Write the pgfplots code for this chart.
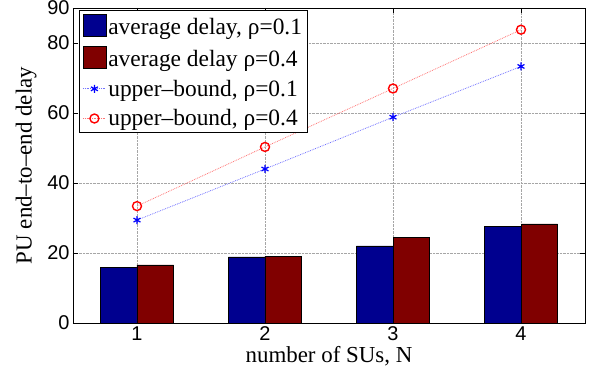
\documentclass[border=0pt]{standalone}
\usepackage{pgfplots}
\pgfplotsset{compat=1.18}
\usepackage{fontspec}
\setmainfont{Liberation Serif}
\newfontfamily\helv{Liberation Sans}
\definecolor{mblue}{RGB}{0,0,143}
\definecolor{mred}{RGB}{128,0,0}
\newcommand{\lf}{\fontsize{23}{27}\selectfont}
\begin{document}
\begin{tikzpicture}
\begin{axis}[
  scale only axis,
  width=512bp, height=315bp,
  xmin=0.5, xmax=4.5, ymin=0, ymax=90,
  xtick={1,2,3,4}, ytick={0,20,40,60,80,90},
  tick align=inside, major tick length=5bp,
  grid=major,
  major grid style={densely dotted, gray!70, line width=0.6pt},
  axis line style={line width=0.8pt},
  tick style={black, line width=0.6pt},
  ticklabel style={font=\helv\fontsize{20}{24}\selectfont},
  /pgf/number format/assume math mode=true,
  xlabel={\lf number of SUs, N},
  ylabel={\lf PU end--to--end delay},
  xlabel style={yshift=1bp},
  ylabel style={yshift=4bp},
  legend style={at={(0.012,0.993)}, anchor=north west, draw=black, line width=0.8pt,
    inner sep=3bp, row sep=8bp, font=\fontsize{23.5}{28}\selectfont,
    cells={anchor=west}},
  legend cell align=left,
]
\addplot[ybar, bar width=0.286, bar shift=-0.143, fill=mblue, draw=black, line width=0.6pt,
  legend image code/.code={\draw[fill=mblue, draw=black, line width=0.6pt] (0bp,-9bp) rectangle (23bp,13bp);}]
  coordinates {(1,15.8) (2,18.9) (3,22.0) (4,27.6)};
\addlegendentry{average delay, ρ=0.1}
\addplot[ybar, bar width=0.286, bar shift=0.143, fill=mred, draw=black, line width=0.6pt,
  legend image code/.code={\draw[fill=mred, draw=black, line width=0.6pt] (0bp,-9bp) rectangle (23bp,13bp);}]
  coordinates {(1,16.6) (2,19.1) (3,24.4) (4,28.3)};
\addlegendentry{average delay ρ=0.4}
\addplot[blue!55, densely dotted, line width=0.8pt, mark=asterisk, mark size=4bp,
  mark options={blue, solid, line width=1.2pt},
  legend image code/.code={\draw[blue!55, densely dotted, line width=0.8pt] (0bp,0bp) -- (23bp,0bp); \draw[blue, solid, line width=1.2pt] plot[mark=asterisk, mark size=4bp] coordinates {(11.5bp,0bp)};}]
  coordinates {(1,29.4) (2,44.0) (3,58.8) (4,73.3)};
\addlegendentry{upper--bound, ρ=0.1}
\addplot[red!55, densely dotted, line width=0.8pt, mark=o, mark size=4.5bp,
  mark options={red, solid, line width=1.4pt},
  legend image code/.code={\draw[red!55, densely dotted, line width=0.8pt] (0bp,0bp) -- (23bp,0bp); \draw[red, solid, line width=1.4pt] plot[mark=o, mark size=4.5bp] coordinates {(11.5bp,0bp)};}]
  coordinates {(1,33.4) (2,50.3) (3,67.0) (4,83.8)};
\addlegendentry{upper--bound, ρ=0.4}
\end{axis}
\path (current axis.south west) ++(-73bp,-52bp) coordinate (bl);
\path (current axis.north east) ++(16bp,8bp) coordinate (tr);
\pgfresetboundingbox
\path[use as bounding box] (bl) rectangle (tr);
\end{tikzpicture}
\end{document}
